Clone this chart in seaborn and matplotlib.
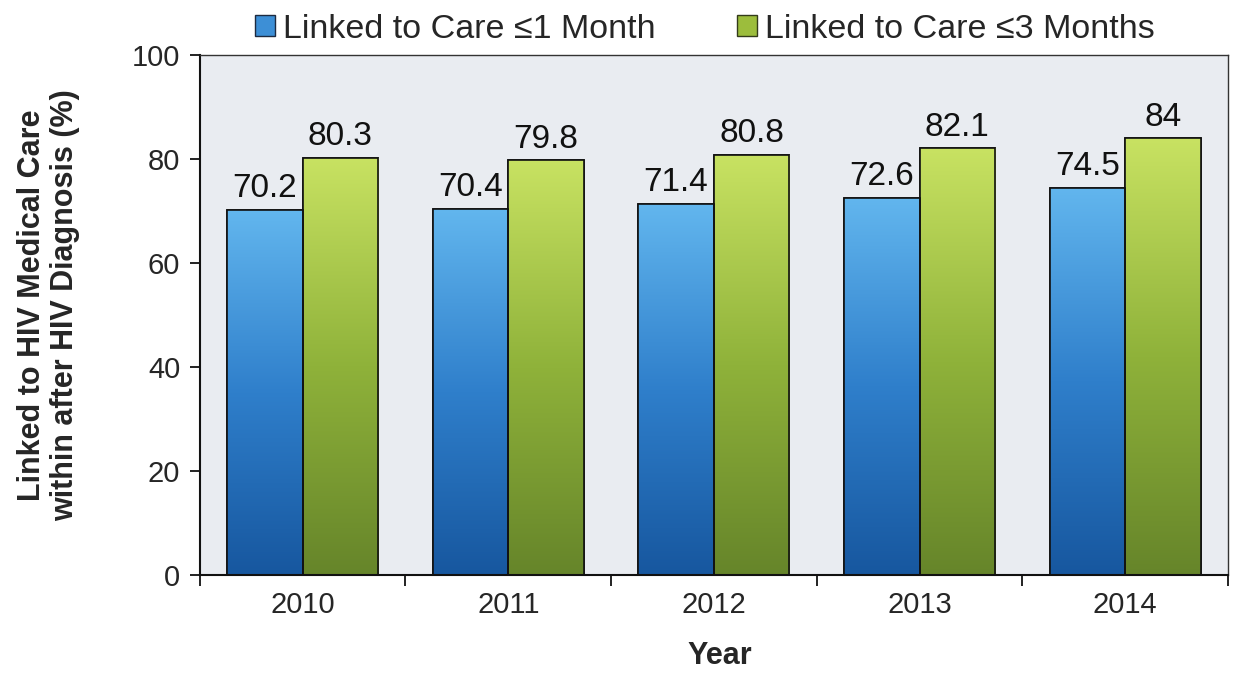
import numpy as np
import pandas as pd
import matplotlib
matplotlib.use("Agg")
import matplotlib.pyplot as plt
import seaborn as sns
from matplotlib.colors import LinearSegmentedColormap
from matplotlib.patches import Patch

years = ["2010", "2011", "2012", "2013", "2014"]
one_month = [70.2, 70.4, 71.4, 72.6, 74.5]
three_months = [80.3, 79.8, 80.8, 82.1, 84]
series_names = ["Linked to Care \u22641 Month", "Linked to Care \u22643 Months"]
y_ticks = [0, 20, 40, 60, 80, 100]

df = pd.DataFrame({
    "Year": years * 2,
    "Value": one_month + three_months,
    "Series": [series_names[0]] * len(years) + [series_names[1]] * len(years),
})

sns.set_theme(style="white")
plt.rcParams["font.family"] = ["Liberation Sans", "DejaVu Sans"]

fig = plt.figure(figsize=(12.41, 6.73), dpi=100)
ax = fig.add_axes([0.161, 0.146, 0.8285, 0.772])
ax.set_facecolor("#e9ecf1")

palette = {series_names[0]: "#3d8fd6", series_names[1]: "#9cbd3c"}
sns.barplot(data=df, x="Year", y="Value", hue="Series", palette=palette,
            width=0.735, edgecolor="#111111", linewidth=1.2, ax=ax,
            legend=False, saturation=1)

# vertical gradients inside each bar
gradients = {
    series_names[0]: LinearSegmentedColormap.from_list(
        "blue", ["#17579f", "#2f7fcb", "#62b6ee"]),
    series_names[1]: LinearSegmentedColormap.from_list(
        "green", ["#66852a", "#8fb23a", "#c8e262"]),
}
grad = np.linspace(0, 1, 256).reshape(-1, 1)
for container, name in zip(ax.containers, series_names):
    for bar in container:
        x0, y0 = bar.get_x(), bar.get_y()
        w, h = bar.get_width(), bar.get_height()
        im = ax.imshow(grad, cmap=gradients[name], aspect="auto", origin="lower",
                       extent=(x0, x0 + w, y0, y0 + h), zorder=bar.get_zorder() + 0.1,
                       interpolation="bicubic")
        im.set_clip_path(bar)
        edge = plt.Rectangle((x0, y0), w, h, fill=False, edgecolor="#111111",
                             linewidth=1.2, zorder=bar.get_zorder() + 0.2)
        ax.add_patch(edge)
    labels = [f"{v:g}" for v in container.datavalues]
    ax.bar_label(container, labels=labels, padding=4, fontsize=24, color="#111111")

ax.set_xlim(-0.5, len(years) - 0.5)
ax.set_ylim(0, 100)
ax.set_yticks(y_ticks)
ax.set_yticklabels([str(t) for t in y_ticks], fontsize=21)
ax.set_xticks(range(len(years)))
ax.set_xticklabels(years, fontsize=21)
ax.tick_params(axis="x", length=0, pad=12)
ax.tick_params(axis="y", direction="out", length=7, width=1.3, color="#111111",
               left=True, pad=7)
# category separators as minor ticks
ax.set_xticks(np.arange(-0.5, len(years), 1.0), minor=True)
ax.tick_params(axis="x", which="minor", direction="out", length=8, width=1.3,
               color="#111111", bottom=True)

for side in ["left", "bottom"]:
    ax.spines[side].set_color("#111111")
    ax.spines[side].set_linewidth(1.5)
for side in ["top", "right"]:
    ax.spines[side].set_color("#333333")
    ax.spines[side].set_linewidth(1.0)

ax.set_xlabel("Year", fontsize=22, fontweight="bold")
ax.xaxis.set_label_coords(0.506, -0.128)
ax.set_ylabel("Linked to HIV Medical Care\nwithin after HIV Diagnosis (%)",
              fontsize=22, fontweight="bold", linespacing=1.15)
ax.yaxis.set_label_coords(-0.116, 0.519)

handles = [Patch(facecolor="#3d8fd6", edgecolor="#1d2a40", linewidth=1.0),
           Patch(facecolor="#9cbd3c", edgecolor="#333b1a", linewidth=1.0)]
fig.legend(handles, series_names, loc="upper center", bbox_to_anchor=(0.568, 1.025),
           ncol=2, frameon=False, fontsize=24.5, handlelength=0.59, handleheight=0.59,
           handletextpad=0.22, columnspacing=2.4)

fig.savefig("out.png", dpi=100)
